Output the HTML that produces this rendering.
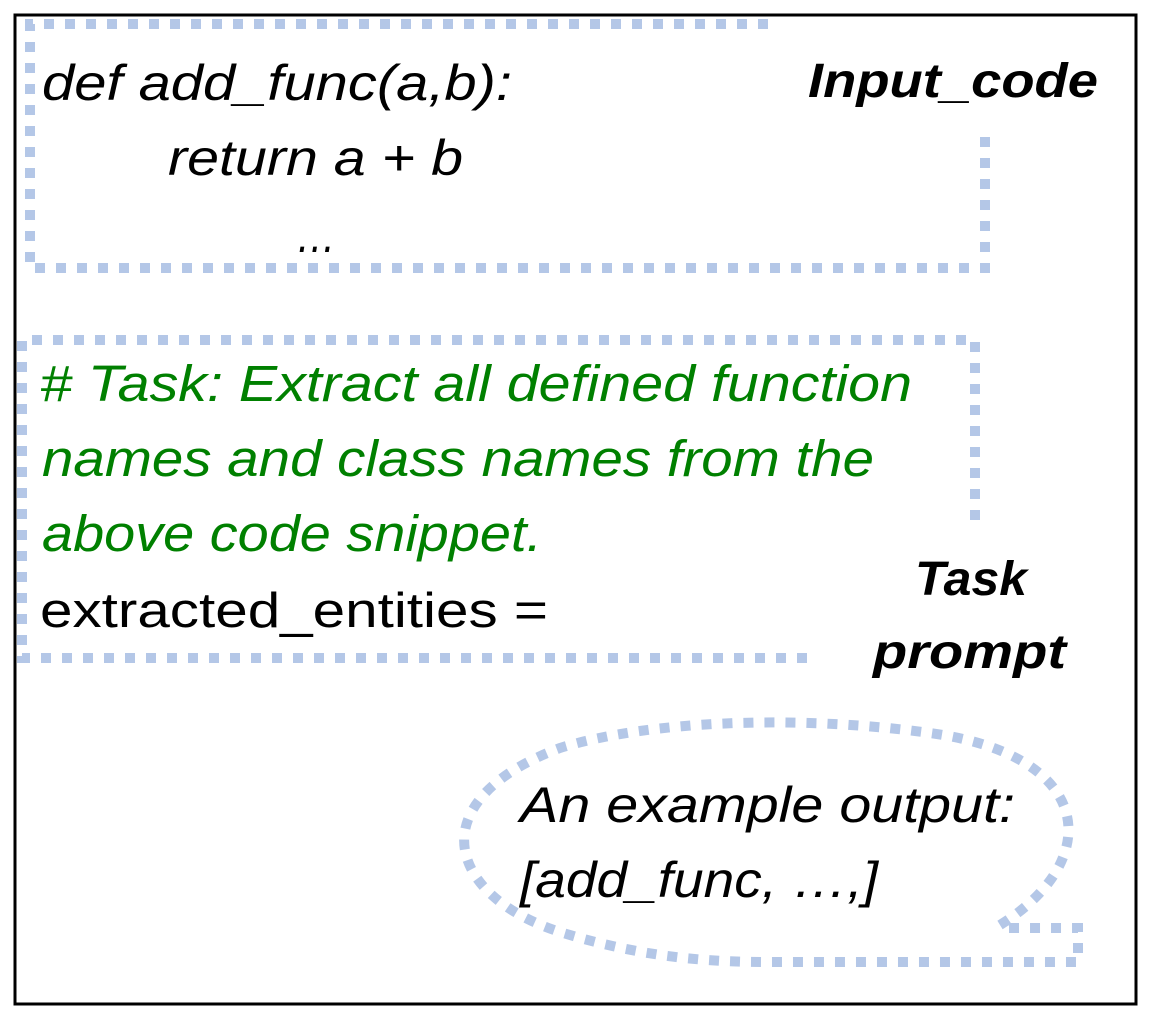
<!DOCTYPE html>
<html><head><meta charset="utf-8"><style>
body{margin:0;background:#fff;}
svg{display:block}
text{font-family:"Liberation Sans",sans-serif;}
</style></head><body>
<svg width="1161" height="1022" viewBox="0 0 1161 1022">
<rect x="0" y="0" width="1161" height="1022" fill="#fff"/>
<path d="M1136 130 V1004 H15 V15 H1136 V130" fill="none" stroke="#000" stroke-width="3"/>
<g fill="none" stroke="#b4c7e7" stroke-width="10" stroke-dasharray="10 11">
<path d="M768 24 H30 V268 H985 V130"/>
<path d="M975 520 V340 H22 V658 H810"/>
<path d="M1000 925 C1105 860 1095 755 930 733 C800 715 650 720 560 748 C420 800 445 895 560 932 C650 960 720 962 770 962 H1078 V928 H1000"/>
</g>
<g font-style="italic" fill="#000" font-size="50">
<text x="42" y="100" textLength="470" lengthAdjust="spacingAndGlyphs">def add_func(a,b):</text>
<text x="168" y="175" textLength="295" lengthAdjust="spacingAndGlyphs">return a + b</text>
<text x="296" y="252" textLength="40" lengthAdjust="spacingAndGlyphs">…</text>
<text x="520" y="822" textLength="495" lengthAdjust="spacingAndGlyphs">An example output:</text>
<text x="520" y="897" textLength="358" lengthAdjust="spacingAndGlyphs">[add_func, …,]</text>
</g>
<g font-style="italic" font-weight="bold" font-size="48" fill="#000">
<text x="808" y="97" textLength="290" lengthAdjust="spacingAndGlyphs">Input_code</text>
<text x="915" y="595" textLength="112" lengthAdjust="spacingAndGlyphs">Task</text>
<text x="873" y="668" textLength="193" lengthAdjust="spacingAndGlyphs">prompt</text>
</g>
<g font-style="italic" font-size="51" fill="#008000">
<text x="40" y="401" textLength="872" lengthAdjust="spacingAndGlyphs"># Task: Extract all defined function</text>
<text x="42" y="476" textLength="832" lengthAdjust="spacingAndGlyphs">names and class names from the</text>
<text x="42" y="551" textLength="500" lengthAdjust="spacingAndGlyphs">above code snippet.</text>
</g>
<text x="40" y="627" font-size="49" fill="#000" textLength="508" lengthAdjust="spacingAndGlyphs">extracted_entities =</text>
</svg>
</body></html>
